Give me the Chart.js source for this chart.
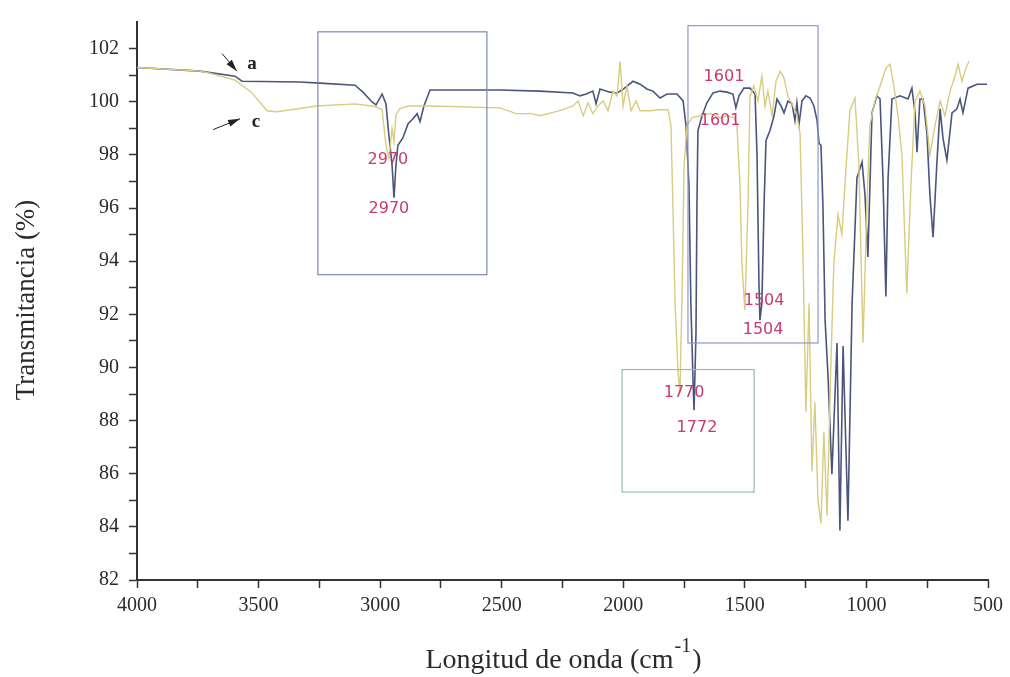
<!DOCTYPE html>
<html>
<head>
<meta charset="utf-8">
<script src="https://cdn.jsdelivr.net/npm/chart.js@4.4.1/dist/chart.umd.min.js"></script>
<style>
  html, body { margin: 0; padding: 0; background: #fff; }
  #wrap { width: 1010px; height: 677px; position: relative; }
</style>
</head>
<body>
<div id="wrap"><canvas id="myChart" width="1010" height="677"></canvas></div>
<script>
// spectrum a (dark line)
const waveA = [4000,3741,3597,3568,3330,3247,3103,3071,3033,3017,2992,2976,2964,2951,2943,2935,2927,2906,2885,2865,2848,2836,2820,2795,
  2507,2343,2207,2178,2153,2125,2112,2096,2055,2026,2005,1985,1960,1931,1903,1878,1849,1820,1779,1754,1742,1730,1722,1713,1709,1701,1697,1693,
  1676,1656,1631,1602,1574,1549,1537,1524,1504,1479,1458,1450,1442,1438,1430,1421,1413,1397,1380,1368,1351,1339,1323,1306,1294,1286,1277,
  1265,1249,1232,1216,1203,1195,1187,1179,1170,1158,1142,1121,1109,1096,1076,1059,1039,1018,1006,994,977,957,944,932,920,911,895,862,829,
  813,800,792,780,767,751,739,726,710,697,685,669,648,628,615,603,582,545,504];
const transA = [101.29,101.15,100.96,100.77,100.74,100.70,100.62,100.36,99.99,99.88,100.29,99.92,98.73,97.61,96.39,97.61,98.36,98.65,99.17,99.36,99.55,99.25,99.84,100.44,
  100.44,100.40,100.33,100.22,100.29,100.40,99.92,100.48,100.36,100.33,100.44,100.59,100.77,100.66,100.48,100.40,100.14,100.29,100.29,100.03,99.10,96.87,92.41,89.43,88.39,91.29,96.13,98.91,
  99.47,99.96,100.33,100.40,100.36,100.29,99.77,100.22,100.51,100.51,100.29,97.99,93.15,91.78,92.41,96.13,98.54,98.91,99.47,100.10,99.84,99.58,100.03,99.92,99.29,99.96,99.17,
  100.03,100.22,100.14,99.84,99.29,98.43,98.36,96.13,91.78,89.70,85.98,90.92,83.86,90.81,84.23,92.41,97.13,97.73,96.50,94.16,99.58,100.22,100.10,97.13,92.67,97.13,100.10,100.22,100.10,
  100.51,99.58,98.10,100.10,100.10,98.80,96.50,94.90,97.73,99.73,98.62,97.80,99.58,99.73,100.10,99.58,100.51,100.66,100.66];

// spectrum c (yellow line)
const waveC = [4000,3741,3700,3597,3530,3465,3424,3260,3103,3033,3017,2992,2976,2964,2951,2943,2935,2920,2885,2795,2507,2440,2380,2343,2280,2240,
  2207,2186,2165,2145,2125,2104,2083,2063,2042,2026,2013,2001,1985,1968,1948,1931,1890,1849,1816,1804,1796,1787,1775,1767,1759,1750,1738,1717,
  1684,1643,1602,1569,1545,1533,1520,1512,1500,1487,1479,1463,1446,1430,1417,1405,1388,1372,1355,1339,1323,1302,1286,1273,1261,1249,1236,1224,
  1212,1199,1187,1175,1162,1146,1134,1117,1101,1084,1068,1047,1031,1014,998,986,965,944,920,903,887,870,854,834,817,800,780,759,739,718,697,677,
  656,636,623,607,591,578];
const transC = [101.29,101.15,101.07,100.81,100.36,99.66,99.62,99.84,99.92,99.84,99.81,99.70,98.36,97.87,99.00,98.50,99.50,99.73,99.84,99.84,99.77,99.55,99.55,99.47,99.62,99.73,
  99.84,100.03,99.47,99.96,99.55,99.84,100.03,99.66,100.40,100.22,101.52,99.84,100.59,99.66,100.03,99.66,99.66,99.70,99.70,99.10,96.13,92.41,89.81,89.06,92.41,97.61,99.10,99.40,
  99.47,99.55,99.40,99.47,99.40,99.17,96.87,93.90,92.15,96.13,100.22,100.59,100.03,100.96,99.84,100.40,99.47,100.77,101.15,100.89,100.22,99.84,99.47,98.80,94.27,88.32,92.41,86.09,
  88.69,84.97,84.12,87.58,84.42,90.18,93.90,95.75,95.01,97.50,99.66,100.14,97.61,90.92,96.13,99.10,100.03,100.59,101.26,101.41,100.59,99.47,97.99,92.78,96.87,100.03,100.40,99.84,97.99,99.10,100.03,99.47,
  100.40,100.96,101.41,100.77,101.26,101.52];

// axis ticks
const xTickLabels = [4000,3500,3000,2500,2000,1500,1000,500];
const yTickLabels = [82,84,86,88,90,92,94,96,98,100,102];

// peak labels and boxes
const peakText  = ['2970','2970','1601','1601','1504','1504','1770','1772'];
const peakWave  = [2968,2964,1586,1602,1421,1425,1750,1697];
const peakTrans = [97.80,95.98,100.92,99.29,92.52,91.41,89.06,87.72];

const boxWaveFrom  = [3256,1734,2005];
const boxWaveTo    = [2561,1199,1462];
const boxTransFrom = [102.63,102.86,89.92];
const boxTransTo   = [93.49,90.92,85.31];
const boxColors = ['#7d88b6','#8f98cc','#93bfae'];

const curveText  = ['a','c'];
const curveWave  = [3527,3511];
const curveTrans = [101.41,99.25];
const arrowFromW = [3650,3687], arrowFromT = [101.81,98.95];
const arrowToW   = [3589,3576], arrowToT   = [101.15,99.36];

const ptsA = waveA.map((w,i) => ({x:w, y:transA[i]}));
const ptsC = waveC.map((w,i) => ({x:w, y:transC[i]}));

const annotate = {
  id: 'annotate',
  afterDatasetsDraw(chart) {
    const ctx = chart.ctx, xs = chart.scales.x, ys = chart.scales.y;
    ctx.save();
    // boxes
    ctx.lineWidth = 1.2;
    for (let i = 0; i < boxWaveFrom.length; i++) {
      const x1 = xs.getPixelForValue(boxWaveFrom[i]), x2 = xs.getPixelForValue(boxWaveTo[i]);
      const y1 = ys.getPixelForValue(boxTransFrom[i]), y2 = ys.getPixelForValue(boxTransTo[i]);
      ctx.strokeStyle = boxColors[i];
      ctx.strokeRect(x1, y1, x2 - x1, y2 - y1);
    }
    // peak labels
    ctx.fillStyle = '#c93a72';
    ctx.font = '16px "DejaVu Sans", sans-serif';
    ctx.textAlign = 'center';
    ctx.textBaseline = 'middle';
    for (let i = 0; i < peakText.length; i++) {
      ctx.fillText(peakText[i], xs.getPixelForValue(peakWave[i]), ys.getPixelForValue(peakTrans[i]));
    }
    // curve names with arrows
    ctx.fillStyle = '#222';
    ctx.strokeStyle = '#222';
    ctx.font = 'bold 19px "Liberation Serif", serif';
    for (let i = 0; i < curveText.length; i++) {
      ctx.fillText(curveText[i], xs.getPixelForValue(curveWave[i]), ys.getPixelForValue(curveTrans[i]));
      const fx = xs.getPixelForValue(arrowFromW[i]), fy = ys.getPixelForValue(arrowFromT[i]);
      const tx = xs.getPixelForValue(arrowToW[i]), ty = ys.getPixelForValue(arrowToT[i]);
      const ang = Math.atan2(ty - fy, tx - fx);
      ctx.lineWidth = 1;
      ctx.beginPath(); ctx.moveTo(fx, fy); ctx.lineTo(tx, ty); ctx.stroke();
      ctx.beginPath();
      ctx.moveTo(tx, ty);
      ctx.lineTo(tx - 12*Math.cos(ang) + 3.5*Math.sin(ang), ty - 12*Math.sin(ang) - 3.5*Math.cos(ang));
      ctx.lineTo(tx - 12*Math.cos(ang) - 3.5*Math.sin(ang), ty - 12*Math.sin(ang) + 3.5*Math.cos(ang));
      ctx.closePath(); ctx.fill();
    }
    ctx.restore();
  },
  afterDraw(chart) {
    const ctx = chart.ctx, area = chart.chartArea;
    ctx.save();
    ctx.fillStyle = '#2a2a2a';
    // x title with superscript
    const main = 'Longitud de onda (cm', sup = '-1', end = ')';
    ctx.font = '28px "Liberation Serif", serif';
    const wMain = ctx.measureText(main).width, wEnd = ctx.measureText(end).width;
    ctx.font = '20px "Liberation Serif", serif';
    const wSup = ctx.measureText(sup).width;
    let x0 = (area.left + area.right) / 2 - (wMain + wSup + wEnd) / 2;
    ctx.textAlign = 'left';
    ctx.textBaseline = 'alphabetic';
    ctx.font = '28px "Liberation Serif", serif';
    ctx.fillText(main, x0, 668);
    ctx.font = '20px "Liberation Serif", serif';
    ctx.fillText(sup, x0 + wMain + 1, 652);
    ctx.font = '28px "Liberation Serif", serif';
    ctx.fillText(end, x0 + wMain + wSup + 2, 668);
    // y title
    ctx.translate(27, 300);
    ctx.rotate(-Math.PI / 2);
    ctx.textAlign = 'center';
    ctx.textBaseline = 'middle';
    ctx.font = '27px "Liberation Serif", serif';
    ctx.fillText('Transmitancia (%)', 0, 0);
    ctx.restore();
  }
};

var ctx = document.getElementById('myChart').getContext('2d');
var chart = new Chart(ctx, {
    type: 'scatter',
    data: {
        datasets: [{
            label: 'c',
            data: ptsC,
            showLine: true,
            borderColor: '#d9cc80',
            borderWidth: 1.4,
            pointRadius: 0,
            tension: 0
        }, {
            label: 'a',
            data: ptsA,
            showLine: true,
            borderColor: '#4b557c',
            borderWidth: 1.6,
            pointRadius: 0,
            tension: 0
        }]
    },
    options: {
        responsive: false,
        animation: false,
        events: [],
        layout: { padding: { left: 0, top: 15, right: 22, bottom: 0 } },
        plugins: { legend: { display: false }, tooltip: { enabled: false } },
        scales: {
            x: {
                type: 'linear',
                reverse: true,
                min: 500, max: 4000,
                afterFit(scale) { scale.height = 97; },
                afterBuildTicks(scale) {
                    const t = [];
                    for (let v = 500; v <= 4000; v += 250) t.push({ value: v });
                    scale.ticks = t;
                },
                ticks: {
                    autoSkip: false, maxRotation: 0, padding: 6,
                    color: '#2a2a2a',
                    font: { family: '"Liberation Serif", serif', size: 20 },
                    callback: (v) => xTickLabels.includes(v) ? String(v) : ''
                },
                grid: { drawOnChartArea: false, drawTicks: true, tickLength: 8, tickColor: '#333', tickWidth: 1.5 },
                border: { display: true, color: '#333', width: 2 }
            },
            y: {
                min: 82, max: 103,
                afterFit(scale) { scale.width = 137; },
                afterBuildTicks(scale) {
                    const t = [];
                    for (let v = 82; v <= 102; v += 1) t.push({ value: v });
                    scale.ticks = t;
                },
                ticks: {
                    autoSkip: false, padding: 10,
                    color: '#2a2a2a',
                    font: { family: '"Liberation Serif", serif', size: 20 },
                    callback: (v) => yTickLabels.includes(v) ? String(v) : ''
                },
                grid: { drawOnChartArea: false, drawTicks: true, tickLength: 8, tickColor: '#333', tickWidth: 1.5 },
                border: { display: true, color: '#333', width: 2 }
            }
        }
    },
    plugins: [annotate]
});
</script>
</body>
</html>
